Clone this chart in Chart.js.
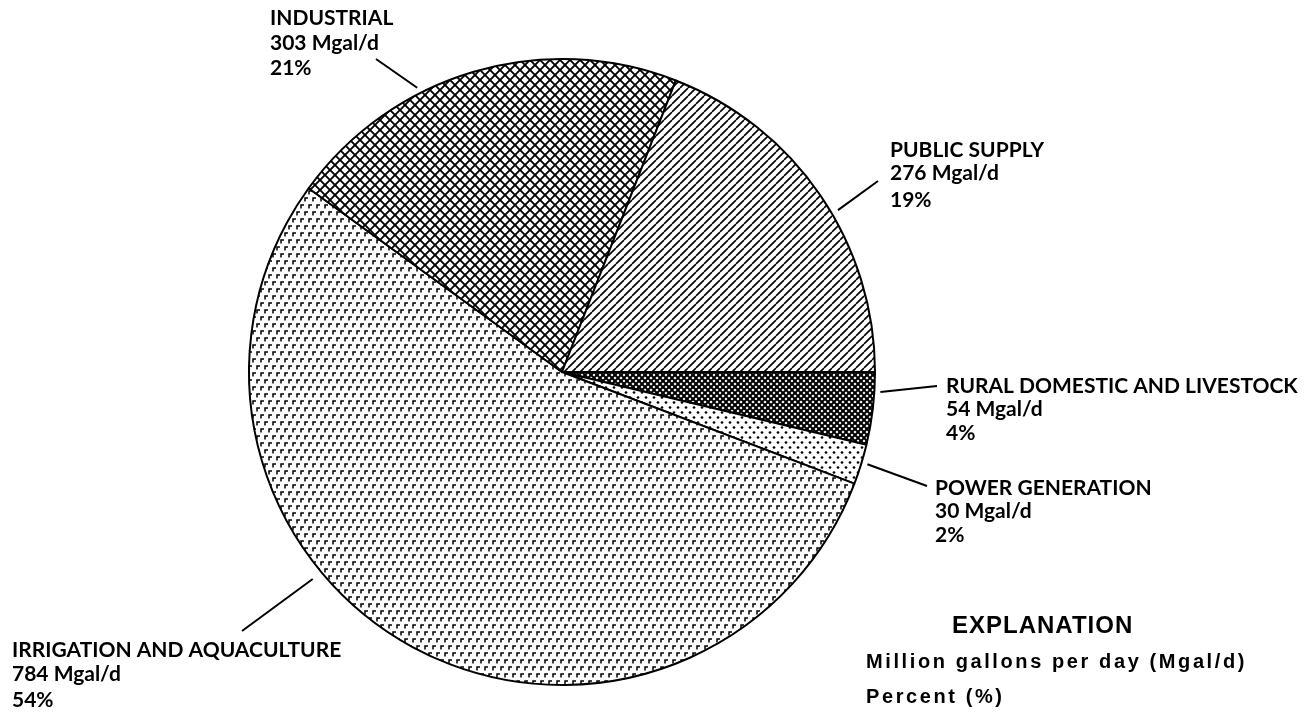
<!DOCTYPE html>
<html>
<head>
<meta charset="utf-8">
<script src="https://cdn.jsdelivr.net/npm/chart.js@4.4.1/dist/chart.umd.min.js"></script>
<style>
  html, body { margin: 0; padding: 0; background: #fff; }
  #wrap { width: 1308px; height: 715px; }
</style>
</head>
<body>
<div id="wrap"><canvas id="pieChart" width="1308" height="715"></canvas></div>
<script>
        // categories, clockwise from 3 o'clock
        const categories = ['RURAL DOMESTIC AND LIVESTOCK', 'POWER GENERATION', 'IRRIGATION AND AQUACULTURE', 'INDUSTRIAL', 'PUBLIC SUPPLY'];
        const withdrawals = [54, 30, 784, 303, 276];   // Mgal/d
        const percents = [4, 2, 54, 21, 19];
        const explanationLines = ['EXPLANATION', 'Million gallons per day (Mgal/d)', 'Percent (%)'];

        // label placement: leader angle (deg clockwise from 3 o'clock), gap from rim, leader end, text x, baselines
        const labelLayout = [
            { angle: 3.6, gap: 6, end: [937, 386], x: 946, lines: [393, 416, 440] },
            { angle: 16.8, gap: 6, end: [927, 486], x: 935, lines: [495, 518, 542] },
            { angle: 140.3, gap: 11, end: [242, 631], x: 12, lines: [657, 681, 707] },
            { angle: 243, gap: 6, end: [376, 59], x: 270, lines: [25, 50, 75] },
            { angle: -30.4, gap: 7, end: [878, 181], x: 890, lines: [157, 180, 207] }
        ];

        function makeTile(w, h, draw) {
            const c = document.createElement('canvas');
            c.width = w; c.height = h;
            const t = c.getContext('2d');
            t.fillStyle = '#fff';
            t.fillRect(0, 0, w, h);
            t.strokeStyle = '#000';
            t.fillStyle = '#000';
            draw(t, w, h);
            return document.getElementById('pieChart').getContext('2d').createPattern(c, 'repeat');
        }

        function diagLines(t, w, h, up) {
            t.beginPath();
            for (let k = -1; k <= 1; k++) {
                if (up) { t.moveTo(k * w, h); t.lineTo(k * w + w, 0); }
                else { t.moveTo(k * w, 0); t.lineTo(k * w + w, h); }
            }
            t.stroke();
        }

        const patterns = [
            // rural: dense heavy crosshatch
            makeTile(6, 6, (t, w, h) => { t.lineWidth = 2; diagLines(t, w, h, true); diagLines(t, w, h, false); }),
            // power: dots
            makeTile(8, 10, (t) => {
                [[2, 2.5], [6, 7.5]].forEach(p => { t.beginPath(); t.arc(p[0], p[1], 1.35, 0, Math.PI * 2); t.fill(); });
            }),
            // irrigation: small corner marks
            makeTile(8, 14, (t) => {
                t.lineWidth = 1.5;
                [[1, 2], [5, 9]].forEach(p => {
                    t.beginPath(); t.moveTo(p[0], p[1] + 3.5); t.lineTo(p[0], p[1]); t.lineTo(p[0] + 3, p[1]); t.stroke();
                });
            }),
            // industrial: crosshatch
            makeTile(10, 10, (t, w, h) => { t.lineWidth = 1.9; diagLines(t, w, h, true); diagLines(t, w, h, false); }),
            // public supply: diagonal hatch
            makeTile(8, 8, (t, w, h) => { t.lineWidth = 1.6; diagLines(t, w, h, true); })
        ];

        const labelPlugin = {
            id: 'leaderLabels',
            afterDraw(chart) {
                const ctx = chart.ctx;
                const arcs = chart.getDatasetMeta(0).data;
                ctx.save();
                ctx.strokeStyle = '#000';
                ctx.lineWidth = 2;
                ctx.fillStyle = '#000';
                ctx.font = 'bold 21px Lato';
                ctx.textBaseline = 'alphabetic';
                categories.forEach((name, i) => {
                    const arc = arcs[i];
                    const L = labelLayout[i];
                    const a = L.angle * Math.PI / 180;
                    const r = arc.outerRadius + L.gap;
                    ctx.beginPath();
                    ctx.moveTo(arc.x + r * Math.cos(a), arc.y + r * Math.sin(a));
                    ctx.lineTo(L.end[0], L.end[1]);
                    ctx.stroke();
                    const texts = [name, withdrawals[i] + ' Mgal/d', percents[i] + '%'];
                    texts.forEach((s, j) => ctx.fillText(s, L.x, L.lines[j]));
                });

                // explanation block
                ctx.font = 'bold 24px "Liberation Sans"';
                ctx.letterSpacing = '1px';
                ctx.fillText(explanationLines[0], 952, 633);
                ctx.font = 'bold 20px "Liberation Sans"';
                ctx.letterSpacing = '2.6px';
                ctx.fillText(explanationLines[1], 866, 668);
                ctx.fillText(explanationLines[2], 866, 703);
                ctx.restore();
            }
        };

        const pieChart = new Chart(document.getElementById('pieChart'), {
            type: 'pie',
            data: {
                labels: categories,
                datasets: [{
                    data: withdrawals,
                    backgroundColor: patterns,
                    borderColor: '#000',
                    borderWidth: 2
                }]
            },
            options: {
                responsive: false,
                animation: false,
                rotation: 90,
                radius: 313,
                layout: { padding: { top: 59, bottom: 30, left: 0, right: 184 } },
                plugins: {
                    legend: { display: false },
                    tooltip: { enabled: false }
                }
            },
            plugins: [labelPlugin]
        });
</script>
</body>
</html>
